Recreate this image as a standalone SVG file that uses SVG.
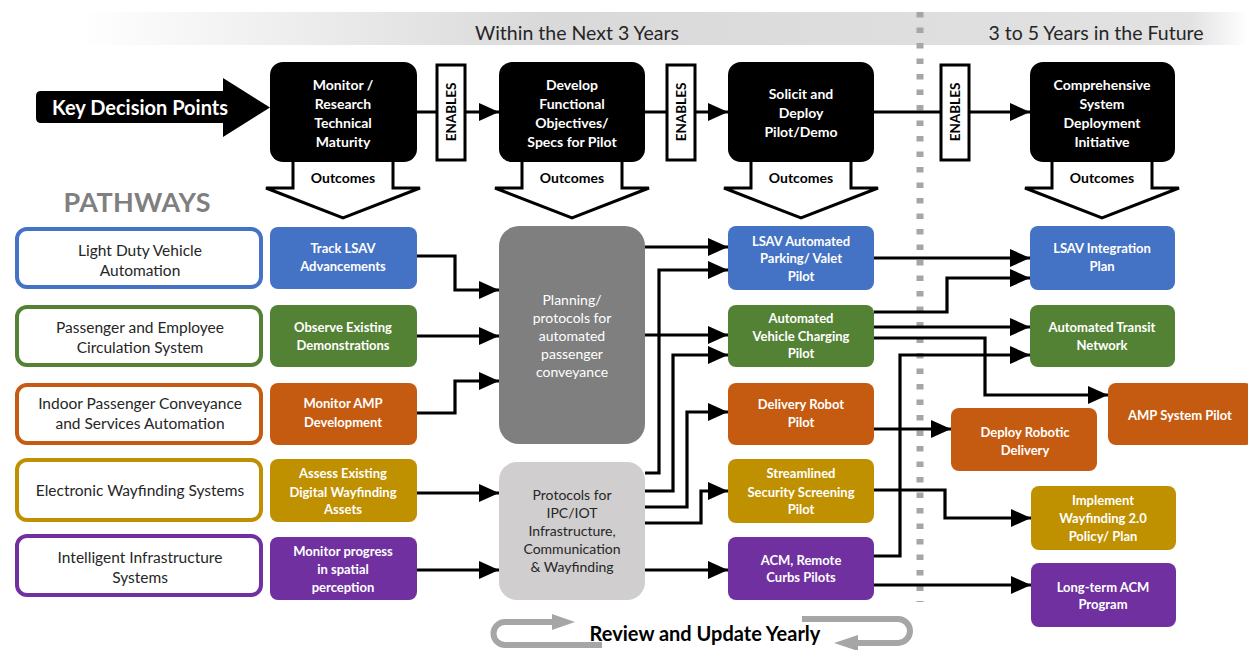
<svg xmlns="http://www.w3.org/2000/svg" width="1248" height="650" viewBox="0 0 1248 650">
  <style>
    text { font-family: Lato, "Liberation Sans", sans-serif; text-anchor: middle; }
    .hdr { font-size: 19.5px; fill: #262626; }
    .kdp { fill: #000; }
    .kdt { font-size: 14px; font-weight: 700; fill: #fff; }
    .ena { fill: #fff; stroke: #000; stroke-width: 3; }
    .enat { font-size: 13.5px; font-weight: 700; fill: #000; }
    .out { fill: #fff; stroke: #000; stroke-width: 3; stroke-linejoin: miter; }
    .outt { font-size: 14px; font-weight: 700; fill: #000; }
    .path { fill: #fff; stroke-width: 4; }
    .patht { font-size: 15.5px; fill: #262626; }
    .bt { font-size: 13px; font-weight: 700; fill: #fff; }
    .mt { font-size: 14px; fill: #fff; }
    .mtd { font-size: 14px; fill: #262626; }
    .blue { fill: #4472c4; } .green { fill: #548235; } .orange { fill: #c55a11; }
    .gold { fill: #bf9000; } .purple { fill: #7030a0; }
    .conn { fill: none; stroke: #000; stroke-width: 3.2; marker-end: url(#ah); }
    .loop { fill: none; stroke: #a6a6a6; stroke-width: 6; }
  </style>
  <defs>
    <linearGradient id="band" x1="80" y1="0" x2="1248" y2="0" gradientUnits="userSpaceOnUse">
      <stop offset="0" stop-color="#ffffff"/>
      <stop offset="0.4" stop-color="#d9d9d9"/>
      <stop offset="0.95" stop-color="#e2e2e2"/>
      <stop offset="1" stop-color="#ffffff"/>
    </linearGradient>
    <marker id="ah" viewBox="0 0 20 18" refX="20" refY="9" markerWidth="20" markerHeight="18" markerUnits="userSpaceOnUse" orient="auto">
      <path d="M0,0 L20,9 L0,18 z" fill="#000"/>
    </marker>
  </defs>

  <rect width="1248" height="650" fill="#fff"/>

  <!-- timeline band -->
  <g id="timeline">
    <rect x="80" y="12" width="1168" height="33" fill="url(#band)"/>
    <text class="hdr" x="577" y="40">Within the Next 3 Years</text>
    <text class="hdr" x="1096" y="40">3 to 5 Years in the Future</text>
    <line x1="920" y1="12" x2="920" y2="602" stroke="#a6a6a6" stroke-width="7" stroke-dasharray="5.5 10"/>
  </g>

  <!-- connectors -->
  <g id="connectors">
    <!-- decision row -->
    <path class="conn" d="M416,112 H499"/>
    <path class="conn" d="M645,112 H728"/>
    <path class="conn" d="M874,112 H1030"/>
    <!-- first stage to planning / protocols -->
    <path class="conn" d="M416,256 H455 V290 H499"/>
    <path class="conn" d="M416,336 H499"/>
    <path class="conn" d="M416,413 H455 V381 H499"/>
    <path class="conn" d="M416,493 H499"/>
    <path class="conn" d="M416,570 H499"/>
    <!-- planning to pilots -->
    <path class="conn" d="M645,247 H728"/>
    <path class="conn" d="M645,335 H728"/>
    <!-- protocols to pilots -->
    <path class="conn" d="M645,473 H659 V270 H728"/>
    <path class="conn" d="M645,491 H673 V355 H728"/>
    <path class="conn" d="M645,507 H687 V412 H728"/>
    <path class="conn" d="M645,523 H701 V491 H728"/>
    <path class="conn" d="M645,570 H728"/>
    <!-- pilots to long-term -->
    <path class="conn" d="M874,258 H1030"/>
    <path class="conn" d="M874,312 H947 V278 H1030"/>
    <path class="conn" d="M874,327 H1030"/>
    <path class="conn" d="M874,338 H985 V395 H1108"/>
    <path class="conn" d="M874,556 H900 V355 H1030"/>
    <path class="conn" d="M874,429 H951"/>
    <path class="conn" d="M874,490 H945 V518 H1031"/>
    <path class="conn" d="M874,585 H1031"/>
  </g>

  <!-- key decision points -->
  <g id="kdp-arrow">
    <path class="kdp" d="M41,91 H223 V78 L270,107.5 L223,137 V123 H41 Q36,123 36,118 V96 Q36,91 41,91 z"/>
    <text x="140" y="115" style="font-size:20px;font-weight:700;fill:#fff">Key Decision Points</text>
  </g>

  <g id="kd-monitor">
    <path class="out" d="M293,160 V188 H266 L343,218 L420,188 H393 V160"/>
    <text class="outt" x="343" y="183">Outcomes</text>
    <rect class="kdp" x="270" y="62" width="147" height="100" rx="13"/>
    <text class="kdt" x="343" y="90">Monitor /</text>
    <text class="kdt" x="343" y="109">Research</text>
    <text class="kdt" x="343" y="128">Technical</text>
    <text class="kdt" x="343" y="147">Maturity</text>
  </g>
  <g id="enables-1">
    <rect class="ena" x="437" y="65" width="28" height="95"/>
    <text class="enat" transform="translate(456,112) rotate(-90)">ENABLES</text>
  </g>
  <g id="kd-develop">
    <path class="out" d="M522,160 V188 H495 L572,218 L649,188 H622 V160"/>
    <text class="outt" x="572" y="183">Outcomes</text>
    <rect class="kdp" x="499" y="62" width="146" height="100" rx="13"/>
    <text class="kdt" x="572" y="90">Develop</text>
    <text class="kdt" x="572" y="109">Functional</text>
    <text class="kdt" x="572" y="128">Objectives/</text>
    <text class="kdt" x="572" y="147">Specs for Pilot</text>
  </g>
  <g id="enables-2">
    <rect class="ena" x="667" y="65" width="28" height="95"/>
    <text class="enat" transform="translate(686,112) rotate(-90)">ENABLES</text>
  </g>
  <g id="kd-solicit">
    <path class="out" d="M751,160 V188 H724 L801,218 L878,188 H851 V160"/>
    <text class="outt" x="801" y="183">Outcomes</text>
    <rect class="kdp" x="728" y="62" width="146" height="100" rx="13"/>
    <text class="kdt" x="801" y="99">Solicit and</text>
    <text class="kdt" x="801" y="118">Deploy</text>
    <text class="kdt" x="801" y="137">Pilot/Demo</text>
  </g>
  <g id="enables-3">
    <rect class="ena" x="941" y="65" width="28" height="95"/>
    <text class="enat" transform="translate(960,112) rotate(-90)">ENABLES</text>
  </g>
  <g id="kd-comprehensive">
    <path class="out" d="M1052,160 V188 H1025 L1102,218 L1179,188 H1152 V160"/>
    <text class="outt" x="1102" y="183">Outcomes</text>
    <rect class="kdp" x="1030" y="62" width="145" height="100" rx="13"/>
    <text class="kdt" x="1102" y="90">Comprehensive</text>
    <text class="kdt" x="1102" y="109">System</text>
    <text class="kdt" x="1102" y="128">Deployment</text>
    <text class="kdt" x="1102" y="147">Initiative</text>
  </g>

  <text x="137" y="212" style="font-size:27px;font-weight:700;fill:#7f7f7f" textLength="147">PATHWAYS</text>

  <!-- pathways -->
  <g id="pw-light-duty">
    <rect class="path" x="17" y="229" width="244" height="58" rx="10" stroke="#4472c4"/>
    <text class="patht" x="140" y="256">Light Duty Vehicle</text>
    <text class="patht" x="140" y="276">Automation</text>
  </g>
  <g id="pw-circulation">
    <rect class="path" x="17" y="307" width="244" height="58" rx="10" stroke="#548235"/>
    <text class="patht" x="140" y="333">Passenger and Employee</text>
    <text class="patht" x="140" y="353">Circulation System</text>
  </g>
  <g id="pw-indoor">
    <rect class="path" x="17" y="385" width="244" height="58" rx="10" stroke="#c55a11"/>
    <text class="patht" x="140" y="409">Indoor Passenger Conveyance</text>
    <text class="patht" x="140" y="429">and Services Automation</text>
  </g>
  <g id="pw-wayfinding">
    <rect class="path" x="17" y="460" width="244" height="60" rx="10" stroke="#bf9000"/>
    <text class="patht" x="140" y="496">Electronic Wayfinding Systems</text>
  </g>
  <g id="pw-infrastructure">
    <rect class="path" x="17" y="536" width="244" height="59" rx="10" stroke="#7030a0"/>
    <text class="patht" x="140" y="563">Intelligent Infrastructure</text>
    <text class="patht" x="140" y="583">Systems</text>
  </g>

  <!-- first stage -->
  <g id="s1-track">
    <rect class="blue" x="270" y="227" width="147" height="62" rx="8"/>
    <text class="bt" x="343" y="253">Track LSAV</text>
    <text class="bt" x="343" y="271">Advancements</text>
  </g>
  <g id="s1-observe">
    <rect class="green" x="270" y="305" width="147" height="62" rx="8"/>
    <text class="bt" x="343" y="332">Observe Existing</text>
    <text class="bt" x="343" y="350">Demonstrations</text>
  </g>
  <g id="s1-amp">
    <rect class="orange" x="270" y="383" width="147" height="62" rx="8"/>
    <text class="bt" x="343" y="408">Monitor AMP</text>
    <text class="bt" x="343" y="427">Development</text>
  </g>
  <g id="s1-assess">
    <rect class="gold" x="270" y="459" width="147" height="63" rx="8"/>
    <text class="bt" x="343" y="478">Assess Existing</text>
    <text class="bt" x="343" y="497">Digital Wayfinding</text>
    <text class="bt" x="343" y="514">Assets</text>
  </g>
  <g id="s1-spatial">
    <rect class="purple" x="270" y="537" width="147" height="63" rx="8"/>
    <text class="bt" x="343" y="556">Monitor progress</text>
    <text class="bt" x="343" y="574">in spatial</text>
    <text class="bt" x="343" y="592">perception</text>
  </g>

  <!-- planning / protocols -->
  <g id="planning">
    <rect x="499" y="226" width="146" height="218" rx="20" fill="#7f7f7f"/>
    <text class="mt" x="572" y="305">Planning/</text>
    <text class="mt" x="572" y="323">protocols for</text>
    <text class="mt" x="572" y="341">automated</text>
    <text class="mt" x="572" y="359">passenger</text>
    <text class="mt" x="572" y="377">conveyance</text>
  </g>
  <g id="protocols">
    <rect x="499" y="462" width="146" height="138" rx="18" fill="#d0cece"/>
    <text class="mtd" x="572" y="500">Protocols for</text>
    <text class="mtd" x="572" y="518">IPC/IOT</text>
    <text class="mtd" x="572" y="536">Infrastructure,</text>
    <text class="mtd" x="572" y="554">Communication</text>
    <text class="mtd" x="572" y="572">&amp; Wayfinding</text>
  </g>

  <!-- pilots -->
  <g id="p-parking">
    <rect class="blue" x="728" y="226" width="146" height="64" rx="8"/>
    <text class="bt" x="801" y="246">LSAV Automated</text>
    <text class="bt" x="801" y="263">Parking/ Valet</text>
    <text class="bt" x="801" y="281">Pilot</text>
  </g>
  <g id="p-charging">
    <rect class="green" x="728" y="305" width="146" height="62" rx="8"/>
    <text class="bt" x="801" y="323">Automated</text>
    <text class="bt" x="801" y="341">Vehicle Charging</text>
    <text class="bt" x="801" y="358">Pilot</text>
  </g>
  <g id="p-robot">
    <rect class="orange" x="728" y="383" width="146" height="62" rx="8"/>
    <text class="bt" x="801" y="409">Delivery Robot</text>
    <text class="bt" x="801" y="427">Pilot</text>
  </g>
  <g id="p-security">
    <rect class="gold" x="728" y="459" width="146" height="64" rx="8"/>
    <text class="bt" x="801" y="478">Streamlined</text>
    <text class="bt" x="801" y="497">Security Screening</text>
    <text class="bt" x="801" y="514">Pilot</text>
  </g>
  <g id="p-acm">
    <rect class="purple" x="728" y="537" width="146" height="63" rx="8"/>
    <text class="bt" x="801" y="565">ACM, Remote</text>
    <text class="bt" x="801" y="582">Curbs Pilots</text>
  </g>

  <!-- long-term -->
  <g id="l-integration">
    <rect class="blue" x="1030" y="226" width="145" height="64" rx="8"/>
    <text class="bt" x="1102" y="253">LSAV Integration</text>
    <text class="bt" x="1102" y="271">Plan</text>
  </g>
  <g id="l-transit">
    <rect class="green" x="1030" y="305" width="145" height="62" rx="8"/>
    <text class="bt" x="1102" y="332">Automated Transit</text>
    <text class="bt" x="1102" y="350">Network</text>
  </g>
  <g id="l-amp">
    <rect class="orange" x="1108" y="383" width="145" height="62" rx="8"/>
    <text class="bt" x="1180" y="420">AMP System Pilot</text>
  </g>
  <g id="l-robotic">
    <rect class="orange" x="951" y="408" width="146" height="63" rx="8"/>
    <text class="bt" x="1025" y="437">Deploy Robotic</text>
    <text class="bt" x="1025" y="455">Delivery</text>
  </g>
  <g id="l-wayfinding">
    <rect class="gold" x="1031" y="486" width="145" height="64" rx="8"/>
    <text class="bt" x="1103" y="505">Implement</text>
    <text class="bt" x="1103" y="523">Wayfinding 2.0</text>
    <text class="bt" x="1103" y="541">Policy/ Plan</text>
  </g>
  <g id="l-acm">
    <rect class="purple" x="1031" y="563" width="145" height="64" rx="8"/>
    <text class="bt" x="1103" y="592">Long-term ACM</text>
    <text class="bt" x="1103" y="609">Program</text>
  </g>

  <!-- yearly review cycle -->
  <g id="review">
    <path class="loop" d="M602,645 H505 A11.5,11.5 0 0 1 505,622 H556"/>
    <polygon points="552,614 575,622 552,630" fill="#a6a6a6"/>
    <path class="loop" d="M802,619 H898 A12,12 0 0 1 898,643 H855"/>
    <polygon points="858,635 834,643 858,651" fill="#a6a6a6"/>
    <text x="705" y="641" style="font-size:20px;font-weight:700;fill:#000">Review and Update Yearly</text>
  </g>
</svg>
